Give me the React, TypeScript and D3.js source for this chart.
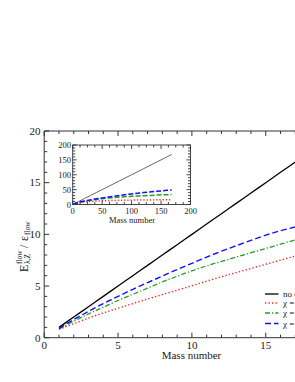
import React from 'react';
import * as d3 from 'd3';

// Main panel data (mass number vs E/eps)
const massMain = [1, 2, 3, 4, 5, 6, 7, 8, 9, 10, 11, 12, 13, 14, 15, 16, 17, 18, 19, 20];
const noCorrMain = [1, 2, 3, 4, 5, 6, 7, 8, 9, 10, 11, 12, 13, 14, 15, 16, 17, 18, 19, 20];
const chi1Main = [0.8, 1.35, 1.9, 2.4, 2.85, 3.3, 3.75, 4.17, 4.6, 5.03, 5.47, 5.9, 6.3, 6.7, 7.1, 7.5, 7.9, 8.25, 8.6, 8.95];
const chi2Main = [0.85, 1.6, 2.3, 2.95, 3.6, 4.2, 4.8, 5.4, 5.95, 6.47, 6.95, 7.38, 7.8, 8.22, 8.63, 9.05, 9.46, 9.86, 10.26, 10.66];
const chi3Main = [0.9, 1.75, 2.55, 3.3, 4.0, 4.68, 5.33, 5.96, 6.6, 7.2, 7.8, 8.37, 8.9, 9.42, 9.92, 10.35, 10.72, 11.1, 11.48, 11.86];

// Inset data
const massInset = [1, 5, 10, 17, 20, 30, 40, 50, 60, 80, 100, 120, 140, 160, 168];
const noCorrInset = [1, 5, 10, 17, 20, 30, 40, 50, 60, 80, 100, 120, 140, 160, 168];
const chi1Inset = [0.8, 2.85, 5.03, 7.9, 8.9, 10.5, 11.5, 12.3, 13, 14, 14.7, 15.2, 15.6, 16, 16.2];
const chi2Inset = [0.85, 3.6, 6.47, 9.5, 10.7, 14, 17, 19.5, 21.5, 25, 27.5, 29.5, 31.5, 33, 33.5];
const chi3Inset = [0.9, 4.0, 7.2, 10.7, 11.9, 15.5, 19, 22, 25, 30.5, 35.5, 40, 44, 47.5, 49];

const mainXTicks = [0, 5, 10, 15];
const mainYTicks = [0, 5, 10, 15, 20];
const insetXTicks = [0, 50, 100, 150, 200];
const insetYTicks = [0, 50, 100, 150, 200];
const legendLabels = ['no correction', 'χ = 0.5', 'χ = 1.0', 'χ = 1.5'];

const FONT = "'Liberation Serif', 'DejaVu Serif', serif";

const seriesStyles = [
  { color: '#000000', dash: undefined as string | undefined, width: 1.3 },
  { color: '#ff2020', dash: '1.3,2.2', width: 1.4 },
  { color: '#22a022', dash: '5,2,1.3,2', width: 1.3 },
  { color: '#1010ff', dash: '6,3', width: 1.4 },
];

export default function App() {
  const x = d3.scaleLinear().domain([0, 20]).range([44.2, 44.2 + 20 * 14.77]);
  const y = d3.scaleLinear().domain([0, 20]).range([337.7, 131]);
  const ix = d3.scaleLinear().domain([0, 200]).range([72.7, 190.5]);
  const iy = d3.scaleLinear().domain([0, 200]).range([204.5, 145]);

  const mainSeries = [noCorrMain, chi1Main, chi2Main, chi3Main];
  const insetSeries = [noCorrInset, chi1Inset, chi2Inset, chi3Inset];

  const mainLine = (vals: number[]) =>
    d3
      .line<number>()
      .curve(d3.curveMonotoneX)
      .x((_, i) => x(massMain[i]))
      .y((d) => y(d))(vals) || '';
  const insetLine = (vals: number[]) =>
    d3
      .line<number>()
      .curve(d3.curveMonotoneX)
      .x((_, i) => ix(massInset[i]))
      .y((d) => iy(d))(vals) || '';

  const [x0, x1] = x.range();
  const [y0, y1] = y.range();
  const [ix0, ix1] = ix.range();
  const [iy0, iy1] = iy.range();

  const mainMinorX = d3.range(0, 21, 1);
  const mainMinorY = d3.range(0, 21, 1);
  const insetMinorX = d3.range(0, 200.1, 12.5);
  const insetMinorY = d3.range(0, 201, 10);

  const legendRows = [294, 303, 313, 323.5];

  return (
    <svg
      width={295}
      height={382}
      style={{ position: 'absolute', left: 0, top: 0, background: '#fff' }}
      fontFamily={FONT}
    >
      <rect x={0} y={0} width={295} height={382} fill="#fff" />

      {/* Main series */}
      {mainSeries.map((vals, i) => (
        <path
          key={'m' + i}
          d={mainLine(vals)}
          fill="none"
          stroke={seriesStyles[i].color}
          strokeWidth={seriesStyles[i].width}
          strokeDasharray={seriesStyles[i].dash}
        />
      ))}

      {/* Main frame */}
      <g stroke="#333" strokeWidth={1} fill="none">
        <line x1={x0} y1={y0} x2={x1} y2={y0} />
        <line x1={x0} y1={y1} x2={x1} y2={y1} />
        <line x1={x0} y1={y0} x2={x0} y2={y1} />
        <line x1={x1} y1={y0} x2={x1} y2={y1} />
        {mainMinorX.map((t) => {
          const major = t % 5 === 0;
          const len = major ? 5 : 3;
          return (
            <g key={'mx' + t}>
              <line x1={x(t)} y1={y0} x2={x(t)} y2={y0 - len} />
              <line x1={x(t)} y1={y1} x2={x(t)} y2={y1 + len} />
            </g>
          );
        })}
        {mainMinorY.map((t) => {
          const major = t % 5 === 0;
          const len = major ? 5 : 3;
          return (
            <g key={'my' + t}>
              <line x1={x0} y1={y(t)} x2={x0 + len} y2={y(t)} />
              <line x1={x1} y1={y(t)} x2={x1 - len} y2={y(t)} />
            </g>
          );
        })}
      </g>
      {mainXTicks.map((t) => (
        <text key={'mxl' + t} x={x(t)} y={348.5} fontSize={11} textAnchor="middle" fill="#222">
          {t}
        </text>
      ))}
      {mainYTicks.map((t) => (
        <text key={'myl' + t} x={40.5} y={y(t) + 3.8} fontSize={11} textAnchor="end" fill="#222">
          {t}
        </text>
      ))}
      <text x={191.5} y={359} fontSize={11} textAnchor="middle" fill="#222">
        Mass number
      </text>

      {/* Y-axis label */}
      <g transform="translate(27.5,272) rotate(-90)" fill="#222">
        <text x={0} y={0} fontSize={12}>E</text>
        <text x={8} y={-5.5} fontSize={7.5}>flow</text>
        <text x={8} y={2.5} fontSize={7.5}>λ,Z</text>
        <text x={24} y={0} fontSize={11.5}>/</text>
        <text x={31} y={0} fontSize={12}>ε</text>
        <text x={37} y={2.5} fontSize={7.5}>flow</text>
      </g>

      {/* Inset */}
      <rect x={ix0} y={iy1} width={ix1 - ix0} height={iy0 - iy1} fill="#fff" />
      {insetSeries.map((vals, i) => (
        <path
          key={'i' + i}
          d={insetLine(vals)}
          fill="none"
          stroke={i === 0 ? '#555' : seriesStyles[i].color}
          strokeWidth={i === 0 ? 0.9 : 1.5}
          strokeDasharray={i === 0 ? undefined : i === 1 ? '1.2,2' : '5,2'}
        />
      ))}
      <g stroke="#333" strokeWidth={0.9} fill="none">
        <rect x={ix0} y={iy1} width={ix1 - ix0} height={iy0 - iy1} />
        {insetMinorX.map((t) => {
          const major = t % 50 === 0;
          const len = major ? 4 : 2.5;
          return (
            <g key={'ix' + t}>
              <line x1={ix(t)} y1={iy0} x2={ix(t)} y2={iy0 - len} />
              <line x1={ix(t)} y1={iy1} x2={ix(t)} y2={iy1 + len} />
            </g>
          );
        })}
        {insetMinorY.map((t) => {
          const major = t % 50 === 0;
          const len = major ? 4 : 2.5;
          return (
            <g key={'iy' + t}>
              <line x1={ix0} y1={iy(t)} x2={ix0 + len} y2={iy(t)} />
              <line x1={ix1} y1={iy(t)} x2={ix1 - len} y2={iy(t)} />
            </g>
          );
        })}
      </g>
      {insetXTicks.map((t) => (
        <text key={'ixl' + t} x={ix(t)} y={213.5} fontSize={8.5} textAnchor="middle" fill="#222">
          {t}
        </text>
      ))}
      {insetYTicks.map((t) => (
        <text key={'iyl' + t} x={71} y={iy(t) + 3} fontSize={8.5} textAnchor="end" fill="#222">
          {t}
        </text>
      ))}
      <text x={132} y={223} fontSize={8.5} textAnchor="middle" fill="#222">
        Mass number
      </text>

      {/* Legend */}
      {legendLabels.map((lab, i) => (
        <g key={'lg' + i}>
          <line
            x1={265}
            x2={278.5}
            y1={legendRows[i]}
            y2={legendRows[i]}
            stroke={seriesStyles[i].color}
            strokeWidth={seriesStyles[i].width}
            strokeDasharray={seriesStyles[i].dash}
          />
          <text x={283} y={legendRows[i] + 3} fontSize={9} fill="#222">
            {lab}
          </text>
        </g>
      ))}
    </svg>
  );
}
